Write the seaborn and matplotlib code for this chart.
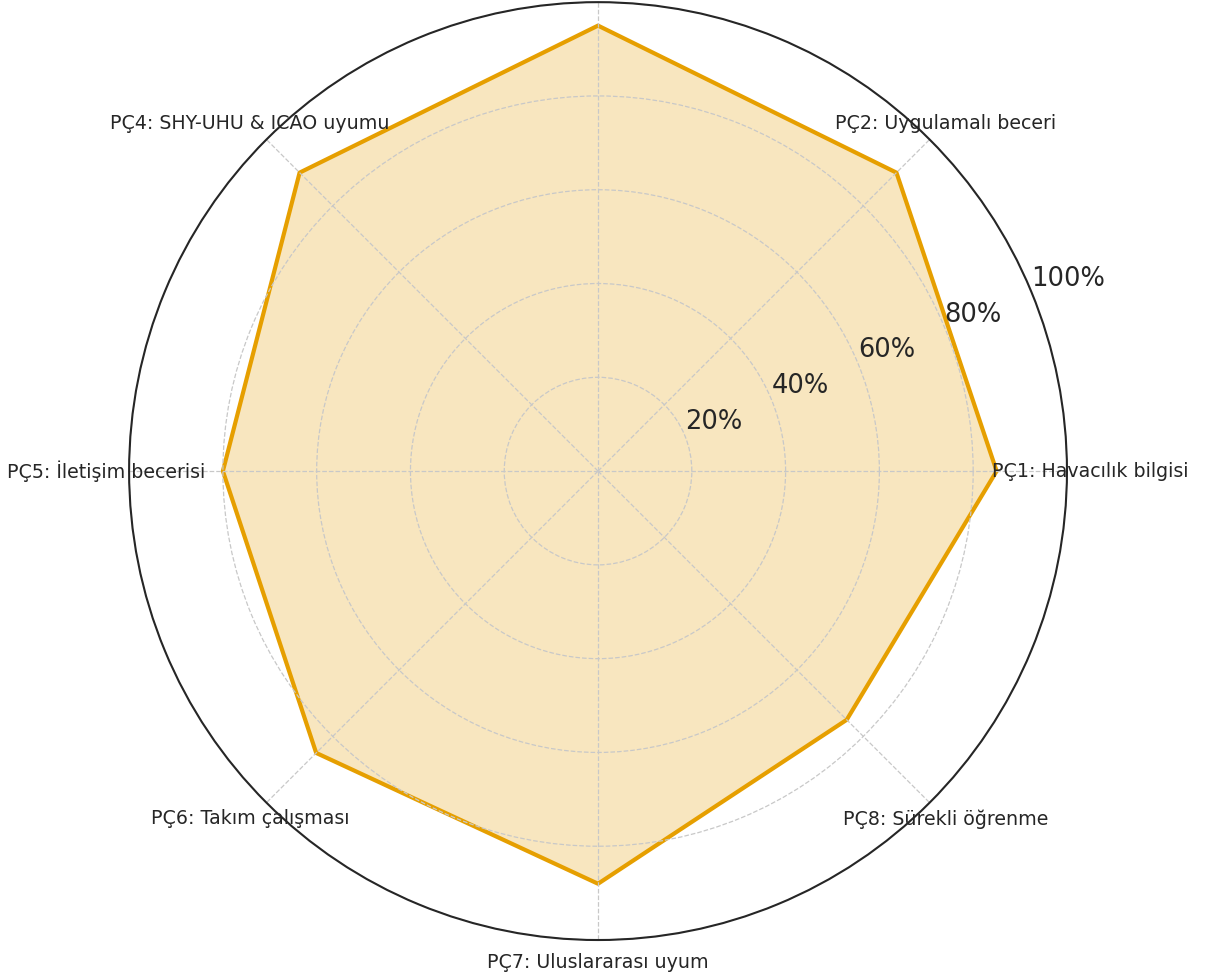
import matplotlib.pyplot as plt
import numpy as np
import pandas as pd
import seaborn as sns

categories = ["PÇ1: Havacılık bilgisi", "PÇ2: Uygulamalı beceri", "PÇ3",
              "PÇ4: SHY-UHU & ICAO uyumu", "PÇ5: İletişim becerisi",
              "PÇ6: Takım çalışması", "PÇ7: Uluslararası uyum", "PÇ8: Sürekli öğrenme"]
scores = [85, 90, 95, 90, 80, 85, 88, 75]
r_ticks = [20, 40, 60, 80, 100]
r_tick_labels = ["20%", "40%", "60%", "80%", "100%"]

sns.set_theme(style="whitegrid")

angles = np.linspace(0, 2 * np.pi, len(categories), endpoint=False)
# close the polygon (2*pi so seaborn doesn't merge it with theta=0)
df = pd.DataFrame({
    "theta": np.append(angles, 2 * np.pi),
    "r": np.append(scores, scores[0]) / 100,
})

fig = plt.figure(figsize=(12.16, 9.8), dpi=100)
ax = fig.add_axes([0.1061, 0.0408, 0.7714, 0.957], projection="polar")
ax.set_axisbelow(False)

ax.fill(df["theta"], df["r"], color="#E69F00", alpha=0.25, zorder=1)
sns.lineplot(data=df, x="theta", y="r", sort=False, estimator=None,
             color="#E69F00", linewidth=3, ax=ax, zorder=2)

ax.set_xticks(angles)
ax.set_xticklabels(categories, fontsize=13.7, color="#262626")
ax.set_ylim(0, 1)
ax.set_yticks(np.array(r_ticks) / 100)
ax.set_yticklabels(r_tick_labels, fontsize=18.5, color="#262626")
ax.set_rlabel_position(22.5)
ax.set_xlabel("")
ax.set_ylabel("")

ax.grid(True, linestyle="--", color="#c8c8c8", linewidth=0.9)
ax.spines["polar"].set_color("#262626")
ax.spines["polar"].set_linewidth(1.5)
ax.spines["polar"].set_zorder(4)
ax.set_facecolor("white")

fig.savefig("out.png", dpi=100)
plt.close()
